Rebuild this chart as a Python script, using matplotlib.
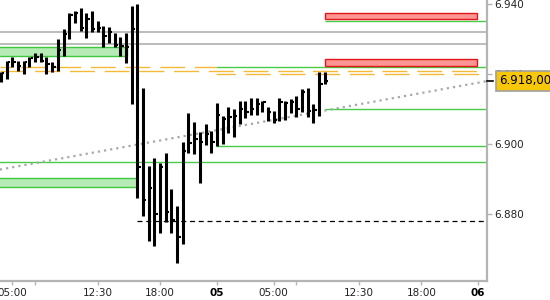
import matplotlib
matplotlib.use('Agg')
import matplotlib.pyplot as plt
import matplotlib.patches as mpatches
import matplotlib.transforms as mtransforms
from matplotlib.ticker import FuncFormatter

# 30 minute bars, 04:00 day 4 -> 09:30 day 5 (high, low, close)
highs = [6920.6, 6923.7, 6924.9, 6923.7, 6923.7, 6924.9, 6926.0, 6926.0, 6924.9, 6923.4,
         6930.0, 6932.9, 6937.4, 6938.0, 6938.9, 6937.4, 6938.0, 6935.1, 6933.7, 6933.4,
         6931.7, 6930.6, 6931.7, 6939.4, 6940.0, 6916.0, 6893.7, 6896.0, 6894.6, 6897.4,
         6887.1, 6882.3, 6900.6, 6908.9, 6906.3, 6903.4, 6905.7, 6903.7, 6911.7, 6908.0,
         6910.6, 6910.0, 6912.3, 6912.3, 6913.1, 6913.1, 6912.3, 6910.6, 6909.4, 6913.1,
         6912.3, 6912.9, 6913.7, 6915.7, 6916.0, 6911.4, 6920.6, 6920.6]
lows = [6917.7, 6918.6, 6922.0, 6920.9, 6920.0, 6922.0, 6923.4, 6923.4, 6920.0, 6920.6,
        6920.9, 6925.1, 6930.0, 6934.6, 6932.3, 6930.3, 6932.0, 6932.0, 6927.7, 6928.9,
        6927.7, 6925.1, 6923.1, 6911.4, 6884.6, 6879.4, 6872.3, 6870.9, 6874.6, 6877.7,
        6874.6, 6866.0, 6871.4, 6897.4, 6897.1, 6888.9, 6899.7, 6897.4, 6899.4, 6900.0,
        6903.1, 6902.0, 6905.7, 6907.4, 6908.3, 6908.3, 6909.1, 6906.6, 6906.0, 6906.6,
        6906.9, 6908.9, 6907.7, 6909.1, 6907.7, 6906.0, 6908.0, 6917.1]
closes = [6920.3, 6923.4, 6923.4, 6922.3, 6923.4, 6924.6, 6924.9, 6923.7, 6922.9, 6922.0,
          6926.9, 6931.4, 6936.9, 6937.4, 6933.1, 6935.7, 6932.9, 6933.1, 6930.9, 6932.0,
          6928.3, 6928.0, 6927.7, 6932.9, 6893.4, 6884.0, 6887.4, 6880.0, 6893.4, 6880.6,
          6878.3, 6873.4, 6898.0, 6900.3, 6901.4, 6900.6, 6902.9, 6900.6, 6908.3, 6907.1,
          6907.7, 6908.0, 6910.0, 6909.1, 6910.0, 6911.4, 6912.0, 6909.1, 6906.9, 6912.0,
          6911.7, 6912.0, 6910.0, 6914.9, 6909.4, 6909.7, 6917.1, 6918.0]
last_price = 6918.0

# x axis (bar index) ticks and labels
tick_pos = [2, 6, 17, 28, 38, 48, 52, 63, 74, 84]
tick_labels = ['05:00', '', '12:30', '18:00', '05', '05:00', '', '12:30', '18:00', '06']
day_labels = ['05', '06']
y_ticks = [6880, 6900, 6920, 6940]

# support / resistance levels
gray_levels = [6931.9, 6928.6]
green_full = [6894.9]
green_from_day = [6922.0, 6899.4]
green_from_last = [6935.1, 6910.0]
orange_full = [6920.8]
orange_to_day = [6921.9]
orange_from_day = [6919.9]
black_dash_level = 6878.0
day_start = 37.85
last_start = 57.0
black_dash_start = 23.9

# zones: (start, end, low, high)
green_zones = [(-1, 22.2, 6925.0, 6927.6), (-1, 23.9, 6887.6, 6890.2)]
red_zones = [(57.0, 83.8, 6935.6, 6937.3), (57.0, 83.8, 6922.3, 6924.2)]

# trendline
trend_x = [-0.2, 86.0]
trend_y = [6892.7, 6918.1]

fig = plt.figure(figsize=(5.5, 3), dpi=100)
ax = fig.add_axes([0, 19 / 300, 487 / 550, 281 / 300])
x0, x1 = -0.18, 85.56
ax.set_xlim(x0, x1)
ax.set_ylim(6860.86, 6941.14)

green = '#46cc46'
orange = '#f5b93a'

for lv in gray_levels:
    ax.axhline(lv, color='#a9a9a9', lw=1.1, zorder=1)
for lv in green_full:
    ax.axhline(lv, color=green, lw=1.0, zorder=1)
ax.hlines(green_from_day, day_start, x1, color=green, lw=1.0, zorder=1)
ax.hlines(green_from_last, last_start, x1, color=green, lw=1.0, zorder=1)
ax.hlines(orange_full, x0, x1, color=orange, lw=1.0, linestyles=(0, (18, 7)), zorder=1)
ax.hlines(orange_to_day, x0, day_start, color=orange, lw=1.0, linestyles=(10, (18, 7)), zorder=1)
ax.hlines(orange_from_day, day_start, x1, color=orange, lw=1.0, linestyles=(4, (18, 7)), zorder=1)
ax.hlines(black_dash_level, black_dash_start, x1, color='black', lw=0.9,
          linestyles=(0, (4, 3)), zorder=1)

for s, e, lo, hi in green_zones:
    ax.add_patch(mpatches.Rectangle((s, lo), e - s, hi - lo, fc='#b6ebb6', ec='#3ec83e',
                                    lw=1.0, zorder=2))
for s, e, lo, hi in red_zones:
    ax.add_patch(mpatches.Rectangle((s, lo), e - s, hi - lo, fc='#fe9595', ec='#e01818',
                                    lw=1.0, zorder=2))

ax.plot(trend_x, trend_y, color='#a8a8a8', lw=1.6, linestyle=(0, (1, 1.8)), zorder=3)

xs = list(range(len(highs)))
ax.vlines(xs, lows, highs, color='black', lw=2.2, zorder=4)
ax.hlines(closes, [x + 0.2 for x in xs], [x + 0.6 for x in xs], color='black', lw=1.5, zorder=4)

# axes styling
for side in ['left', 'top']:
    ax.spines[side].set_visible(False)
for side in ['right', 'bottom']:
    ax.spines[side].set_color('#b4b4b4')
    ax.spines[side].set_linewidth(1.6)

ax.yaxis.tick_right()
ax.set_yticks(y_ticks)
ax.yaxis.set_major_formatter(FuncFormatter(lambda v, p: '{:,.0f}'.format(v).replace(',', '.')))
ax.tick_params(axis='y', length=3.5, width=1, color='#b4b4b4', pad=2, labelsize=7.5,
               labelcolor='#222222')
ax.set_xticks(tick_pos)
ax.set_xticklabels(tick_labels)
ax.tick_params(axis='x', length=3, width=1, color='#b4b4b4', pad=2, labelsize=7.5,
               labelcolor='#222222')
for lab in ax.get_xticklabels():
    if lab.get_text() in day_labels:
        lab.set_fontweight('bold')
        lab.set_color('black')

# current price label
trans = mtransforms.blended_transform_factory(ax.transAxes, ax.transData)
ax.plot([1.0, 1.012], [last_price, last_price], color='black', lw=1.2, transform=trans,
        clip_on=False, zorder=5)
ax.text(1.025, last_price, '{:,.2f}'.format(last_price).replace(',', ' ').replace('.', ',').replace(' ', '.'),
        transform=trans, va='center', ha='left', fontsize=8.5, color='black', zorder=6,
        bbox=dict(boxstyle='square,pad=0.3', fc='#f7c80a', ec='#a0a0a0', lw=1.2))

fig.savefig('out.png', dpi=100)
